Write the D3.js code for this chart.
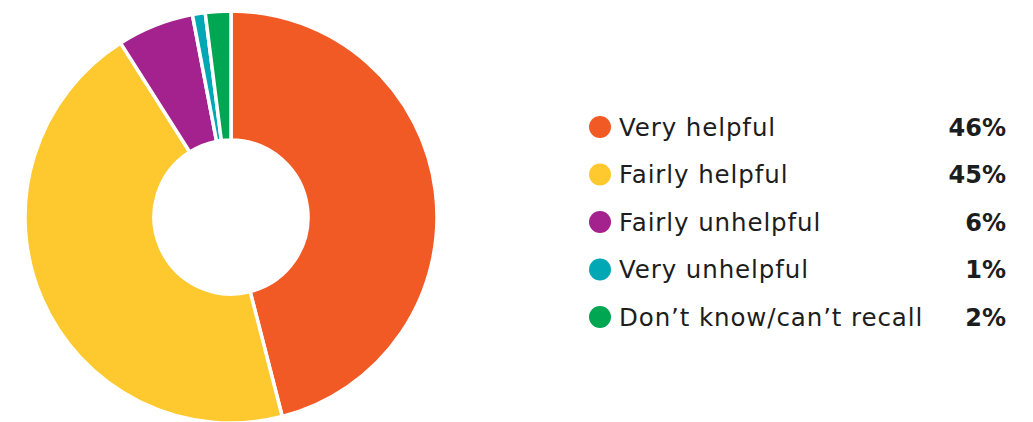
<!DOCTYPE html>
<html>
<head>
<meta charset="utf-8">
<script src="https://cdn.jsdelivr.net/npm/d3@7"></script>
<style>
  html, body { margin: 0; padding: 0; background: #fff; }
  svg { display: block; }
</style>
</head>
<body>
<svg id="chart" width="1033" height="422"></svg>
<script>
// Survey responses: how helpful was the support received
const categories = ["Very helpful", "Fairly helpful", "Fairly unhelpful", "Very unhelpful", "Don\u2019t know/can\u2019t recall"];
const values = [46, 45, 6, 1, 2];
const colors = ["#F15A24", "#FDC92F", "#A3228E", "#00A8B5", "#00A651"];

const svg = d3.select("#chart");
const cx = 231, cy = 217, outerR = 206, innerR = 77;

const pie = d3.pie().sort(null).value(d => d.value);
const arc = d3.arc().innerRadius(innerR).outerRadius(outerR);
const data = categories.map((c, i) => ({ name: c, value: values[i], color: colors[i] }));

svg.append("g")
  .attr("transform", `translate(${cx},${cy})`)
  .selectAll("path")
  .data(pie(data))
  .join("path")
  .attr("d", arc)
  .attr("fill", d => d.data.color)
  .attr("stroke", "#fff")
  .attr("stroke-width", 3.5)
  .attr("stroke-linejoin", "round");

// Legend
const y = d3.scalePoint().domain(categories).range([127, 317]);
const legend = svg.append("g").selectAll("g")
  .data(data)
  .join("g")
  .attr("transform", d => `translate(0,${y(d.name)})`);

legend.append("circle")
  .attr("cx", 600).attr("cy", 0).attr("r", 11)
  .attr("fill", d => d.color);

legend.append("text")
  .attr("x", 619).attr("y", 0).attr("dy", "0.36em")
  .attr("font-family", "'DejaVu Sans', sans-serif")
  .attr("font-size", 24.5)
  .attr("letter-spacing", 0.9)
  .attr("fill", "#1d1d1d")
  .text(d => d.name);

legend.append("text")
  .attr("x", 1006).attr("y", 0).attr("dy", "0.36em")
  .attr("text-anchor", "end")
  .attr("font-family", "'DejaVu Sans', sans-serif")
  .attr("font-weight", 700)
  .attr("font-size", 24)
  .attr("fill", "#1d1d1d")
  .text(d => d.value + "%");
</script>
</body>
</html>
